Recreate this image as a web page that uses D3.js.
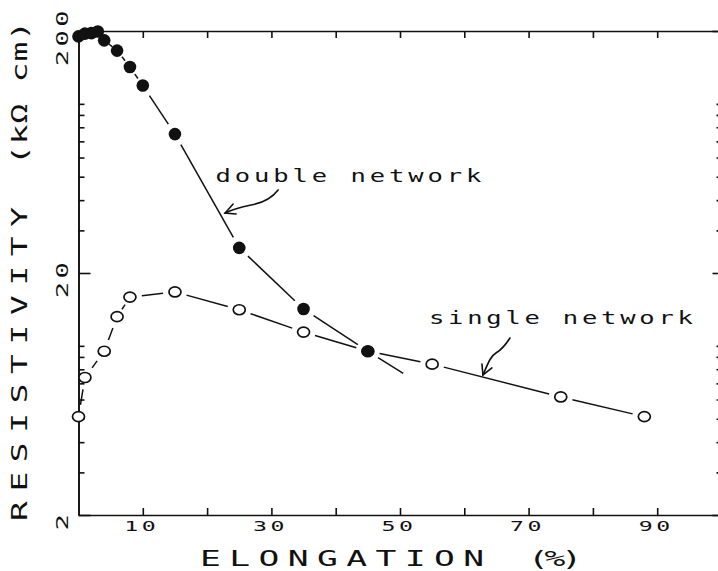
<!DOCTYPE html>
<meta charset="utf-8">
<script src="https://d3js.org/d3.v7.min.js"></script>
<style>
  body { margin: 0; background: #fff; }
  svg { display: block; }
</style>
<div id="chart"></div>
<script>

// double network: elongation (%) and resistivity (kOhm cm)
var doubleX = [0, 1, 2, 3, 4, 6, 8, 10, 15, 25, 35, 45];
var doubleY = [190, 195, 196, 199, 183, 166, 142, 119, 75, 25.4, 14.2, 9.5];
// the drawn curve runs on a bit past the last measured point
var doubleTailX = [50.5];
var doubleTailY = [7.7];

// single network
var singleX = [0, 1, 4, 6, 8, 15, 25, 35, 45, 55, 75, 88];
var singleY = [5.1, 7.4, 9.5, 13.2, 15.9, 16.7, 14.1, 11.4, 9.5, 8.4, 6.15, 5.1];

var xTicks = [10, 20, 30, 40, 50, 60, 70, 80, 90];
var xTickLabels = [10, 30, 50, 70, 90];
var yMajor = [2, 20, 200];
var yMinor = [3, 4, 5, 6, 7, 8, 9, 10, 30, 40, 50, 60, 70, 80, 90, 100];

var ink = "#111";
var W = 718, H = 571;
var plotL = 78.5, plotR = 721.5, plotT = 31, plotB = 515;

var svg = d3.select("#chart").append("svg")
    .attr("width", W)
    .attr("height", H);

var x = d3.scaleLinear().domain([0, 100]).range([plotL, plotR]);
var y = d3.scaleLog().domain([2, 200]).range([plotB, plotT]);

// text in a plotter-like wide mono face
function label(parent, str, o) {
  var tr = "translate(" + o.x + "," + o.y + ")";
  if (o.rotate) tr += " rotate(" + o.rotate + ")";
  tr += " scale(" + o.sx + ",1)";
  var t = parent.append("g").attr("transform", tr)
    .append("text")
      .attr("font-family", "'DejaVu Sans Mono', monospace")
      .attr("font-size", o.size)
      .attr("text-anchor", o.anchor || "start")
      .attr("fill", ink)
      .text(str);
  if (o.length) t.attr("textLength", o.length / o.sx).attr("lengthAdjust", "spacing");
  return t;
}

function styleAxis(g) {
  g.selectAll("path, line").attr("stroke", ink).attr("stroke-width", 1.6);
}

// axes
var gBottom = svg.append("g")
    .attr("transform", "translate(0," + plotB + ")")
    .call(d3.axisBottom(x).tickValues(xTicks).tickSizeInner(-7).tickSizeOuter(0)
      .tickFormat(function(d) { return xTickLabels.indexOf(d) >= 0 ? d : ""; }));
gBottom.selectAll(".tick text")
    .attr("y", 16).attr("dy", null)
    .attr("font-family", "'DejaVu Sans Mono', monospace")
    .attr("font-size", 14.5)
    .attr("fill", ink)
    .attr("letter-spacing", 2.2)
    .attr("transform", "translate(-1.5,0) scale(1.6,1)");
styleAxis(gBottom);

var gTop = svg.append("g")
    .attr("transform", "translate(0," + plotT + ")")
    .call(d3.axisTop(x).tickValues(xTicks).tickSizeInner(-7).tickSizeOuter(0).tickFormat(""));
styleAxis(gTop);

var gLeft = svg.append("g")
    .attr("transform", "translate(" + plotL + ",0)")
    .call(d3.axisLeft(y).tickValues(yMajor).tickSizeInner(-12).tickSizeOuter(0)
      .tickFormat(d3.format("d")));
gLeft.selectAll(".tick text")
    .attr("x", -3).attr("dy", null)
    .attr("text-anchor", "middle")
    .attr("font-family", "'DejaVu Sans Mono', monospace")
    .attr("font-size", 16)
    .attr("fill", ink)
    .attr("letter-spacing", 2)
    .attr("transform", "translate(-11,0) rotate(-90) scale(1.7,1)");
svg.append("g")
    .attr("transform", "translate(" + plotL + ",0)")
    .call(d3.axisLeft(y).tickValues(yMinor).tickSizeInner(-6).tickSizeOuter(0).tickFormat(""))
    .call(styleAxis);
styleAxis(gLeft);

svg.append("g")
    .attr("transform", "translate(" + plotR + ",0)")
    .call(d3.axisRight(y).tickValues(yMajor).tickSizeInner(-9).tickSizeOuter(0).tickFormat(""))
    .call(styleAxis);
svg.append("g")
    .attr("transform", "translate(" + plotR + ",0)")
    .call(d3.axisRight(y).tickValues(yMinor).tickSizeInner(-5).tickSizeOuter(0).tickFormat(""))
    .call(styleAxis);

// axis titles
label(svg, "ELONGATION", {x: 200, y: 566, size: 21, sx: 1.65, length: 284});
label(svg, "(%)", {x: 528, y: 566, size: 21, sx: 1.65, length: 54});
label(svg, "RESISTIVITY", {x: 27, y: 521, rotate: -90, size: 20.5, sx: 1.6, length: 314});
label(svg, "(k\u03A9 cm)", {x: 27, y: 165, rotate: -90, size: 20.5, sx: 1.6, length: 144});

// connecting lines, broken around each symbol
function gapped(pts, gap) {
  var segs = [];
  for (var i = 1; i < pts.length; i++) {
    var a = pts[i - 1], b = pts[i];
    var dx = b[0] - a[0], dy = b[1] - a[1], len = Math.hypot(dx, dy);
    var g0 = Math.min(gap, len * 0.38);
    var g1 = b[2] ? 0 : g0;
    if (len - g0 - g1 < 1) continue;
    segs.push([[a[0] + dx / len * g0, a[1] + dy / len * g0],
               [b[0] - dx / len * g1, b[1] - dy / len * g1]]);
  }
  return segs;
}

var line = d3.line();
var lines = svg.append("g")
    .attr("fill", "none")
    .attr("stroke", ink)
    .attr("stroke-width", 1.5);

var singlePts = singleX.map(function(d, i) { return [x(d), y(singleY[i])]; });
var doublePts = doubleX.map(function(d, i) { return [x(d), y(doubleY[i])]; });
var doubleLinePts = doublePts.concat(doubleTailX.map(function(d, i) {
  return [x(d), y(doubleTailY[i]), true];
}));

lines.selectAll(".seg-single")
  .data(gapped(singlePts, 12))
  .enter().append("path")
    .attr("class", "seg-single")
    .attr("d", line);
lines.selectAll(".seg-double")
  .data(gapped(doubleLinePts, 12))
  .enter().append("path")
    .attr("class", "seg-double")
    .attr("d", line);

// symbols
svg.append("g").selectAll("ellipse")
  .data(singlePts)
  .enter().append("ellipse")
    .attr("cx", function(d) { return d[0]; })
    .attr("cy", function(d) { return d[1]; })
    .attr("rx", 6)
    .attr("ry", 5)
    .attr("fill", "#fff")
    .attr("stroke", ink)
    .attr("stroke-width", 1.7);

svg.append("g").selectAll("circle")
  .data(doublePts)
  .enter().append("circle")
    .attr("cx", function(d) { return d[0]; })
    .attr("cy", function(d) { return d[1]; })
    .attr("r", 6.3)
    .attr("fill", ink);

// annotations
label(svg, "double network", {x: x(21.3), y: y(47.5), size: 17, sx: 1.5, length: 266});
label(svg, "single network", {x: x(54.5), y: y(12.3), size: 17, sx: 1.5, length: 264});

function arrow(tx, ty, body, head) {
  var g = svg.append("g")
      .attr("transform", "translate(" + x(tx) + "," + y(ty) + ")")
      .attr("fill", "none")
      .attr("stroke", ink)
      .attr("stroke-width", 1.6)
      .attr("stroke-linecap", "round");
  g.append("path").attr("d", body);
  g.append("path").attr("d", head);
}
arrow(22.8, 35.4, "M53,-23 C46,-14 38,-10 26,-8 C16,-6 8,-4 0,0", "M8,-9 L0,0 L11,1");
arrow(62.9, 7.58, "M27,-37 C22,-29 18,-25 13,-22 C8,-19 6,-14 0,0", "M-1,-11 L0,0 L9,-7");

</script>
